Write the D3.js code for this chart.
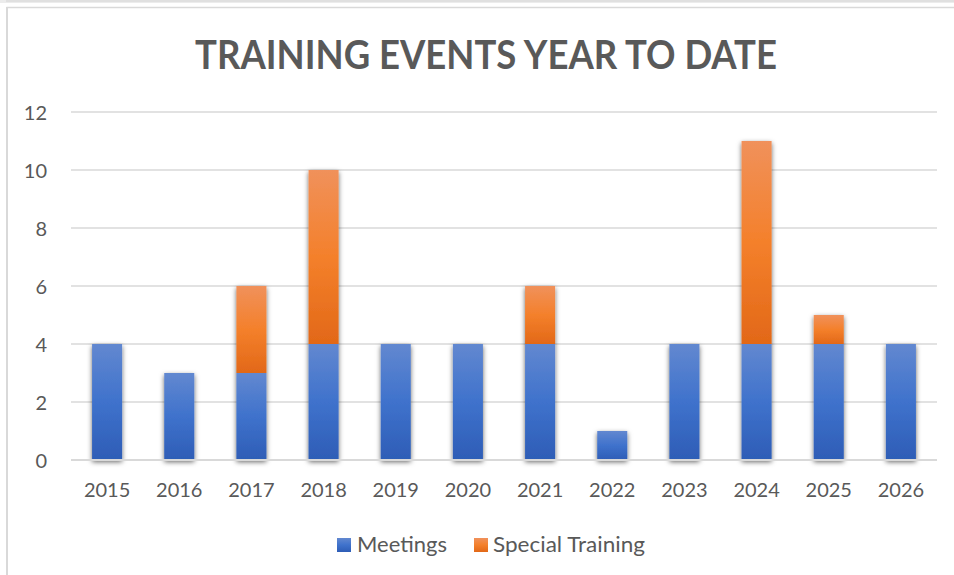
<!DOCTYPE html>
<html>
<head>
<meta charset="utf-8">
<script src="https://cdn.jsdelivr.net/npm/d3@7"></script>
<style>
  html, body { margin: 0; padding: 0; background: #fff; }
  svg { display: block; font-family: Lato, "Open Sans", sans-serif; }
</style>
</head>
<body>
<svg id="chart" width="954" height="575"></svg>
<script>
// Training events per year, split into regular meetings and special training
const years = ["2015", "2016", "2017", "2018", "2019", "2020", "2021", "2022", "2023", "2024", "2025", "2026"];
const meetings = [4, 3, 3, 4, 4, 4, 4, 1, 4, 4, 4, 4];
const specialTraining = [0, 0, 3, 6, 0, 0, 2, 0, 0, 7, 1, 0];
const yTicks = [0, 2, 4, 6, 8, 10, 12];
const seriesNames = ["Meetings", "Special Training"];
const titleText = "TRAINING EVENTS YEAR TO DATE";

const svg = d3.select("#chart");
const W = 954, H = 575;
const plot = { left: 71, right: 937, top: 112, bottom: 460 };
const textColor = "#595959";
const gridColor = "#d9d9d9";

// Outer frame of the chart object
svg.append("rect").attr("x", 0).attr("y", 0).attr("width", W).attr("height", 3).attr("fill", "#ececec");
svg.append("line").attr("x1", 6).attr("x2", W).attr("y1", 1).attr("y2", 1)
  .attr("stroke", "#d4d4d4").attr("stroke-width", 1);
svg.append("line").attr("x1", 6.5).attr("x2", W).attr("y1", 7.5).attr("y2", 7.5)
  .attr("stroke", "#d9d9d9").attr("stroke-width", 1.5);
svg.append("line").attr("x1", 7).attr("x2", 7).attr("y1", 7).attr("y2", H)
  .attr("stroke", "#d9d9d9").attr("stroke-width", 2);

const defs = svg.append("defs");
function gradient(id, stops) {
  const g = defs.append("linearGradient").attr("id", id)
    .attr("x1", 0).attr("y1", 0).attr("x2", 0).attr("y2", 1);
  stops.forEach(([o, c]) => g.append("stop").attr("offset", o).attr("stop-color", c));
}
gradient("gBlue", [[0, "#6288d0"], [0.5, "#3f72cc"], [1, "#2e5db6"]]);
gradient("gOrange", [[0, "#f0915b"], [0.5, "#f4802b"], [1, "#e26818"]]);

const shadow = defs.append("filter").attr("id", "shadow")
  .attr("x", "-40%").attr("y", "-10%").attr("width", "180%").attr("height", "130%");
shadow.append("feDropShadow").attr("dx", 0).attr("dy", 2).attr("stdDeviation", 2.4)
  .attr("flood-color", "#000").attr("flood-opacity", 0.6);

// Scales
const x = d3.scaleBand().domain(years).range([plot.left, plot.right]).padding(0);
const y = d3.scaleLinear().domain([0, 12]).range([plot.bottom, plot.top]);
const barW = x.bandwidth() * 0.416;

// Gridlines
svg.append("g").selectAll("line").data(yTicks.filter(t => t > 0)).join("line")
  .attr("x1", plot.left).attr("x2", plot.right)
  .attr("y1", d => y(d)).attr("y2", d => y(d))
  .attr("stroke", gridColor).attr("stroke-width", 1.5);

// Y axis labels
const yAxis = d3.axisLeft(y).tickValues(yTicks).tickSize(0).tickPadding(0);
const gy = svg.append("g").attr("transform", `translate(47,0)`).call(yAxis);
gy.select(".domain").remove();
gy.selectAll("text").attr("fill", textColor).attr("font-size", 20)
  .attr("font-family", "Lato, sans-serif").attr("dy", "0.36em");

// Stacked bars
const rows = years.map((yr, i) => ({ year: yr, Meetings: meetings[i], "Special Training": specialTraining[i] }));
const stack = d3.stack().keys(seriesNames)(rows);
const fills = { "Meetings": "url(#gBlue)", "Special Training": "url(#gOrange)" };

const barsG = svg.append("g").attr("filter", "url(#shadow)");
stack.forEach(layer => {
  barsG.append("g").selectAll("rect")
    .data(layer.filter(d => d[1] - d[0] > 0)).join("rect")
    .attr("x", d => x(d.data.year) + x.bandwidth() / 2 - barW / 2)
    .attr("width", barW)
    .attr("y", d => y(d[1]))
    .attr("height", d => y(d[0]) - y(d[1]))
    .attr("fill", fills[layer.key]);
});

// Baseline
svg.append("line").attr("x1", plot.left).attr("x2", plot.right)
  .attr("y1", y(0)).attr("y2", y(0)).attr("stroke", gridColor).attr("stroke-width", 2);

// X axis labels
const xAxis = d3.axisBottom(x).tickSize(0).tickPadding(0);
const gx = svg.append("g").attr("transform", `translate(0,${plot.bottom + 23})`).call(xAxis);
gx.select(".domain").remove();
gx.selectAll("text").attr("fill", textColor).attr("font-size", 20)
  .attr("font-family", "Lato, sans-serif").attr("dy", "0.71em");

// Title
svg.append("text").attr("x", 486).attr("y", 69).attr("text-anchor", "middle")
  .attr("font-size", 41).attr("font-weight", 700).attr("fill", textColor)
  .attr("textLength", 582).attr("lengthAdjust", "spacingAndGlyphs")
  .text(titleText);

// Legend
const legend = [
  { name: seriesNames[0], fill: "url(#gBlue)", sx: 337, tx: 357, tw: 90 },
  { name: seriesNames[1], fill: "url(#gOrange)", sx: 474, tx: 493, tw: 152 }
];
const lg = svg.append("g");
legend.forEach(l => {
  lg.append("rect").attr("x", l.sx).attr("y", 538).attr("width", 14).attr("height", 14).attr("fill", l.fill);
  lg.append("text").attr("x", l.tx).attr("y", 552).attr("font-size", 22).attr("fill", textColor)
    .attr("textLength", l.tw).attr("lengthAdjust", "spacingAndGlyphs").text(l.name);
});
</script>
</body>
</html>
